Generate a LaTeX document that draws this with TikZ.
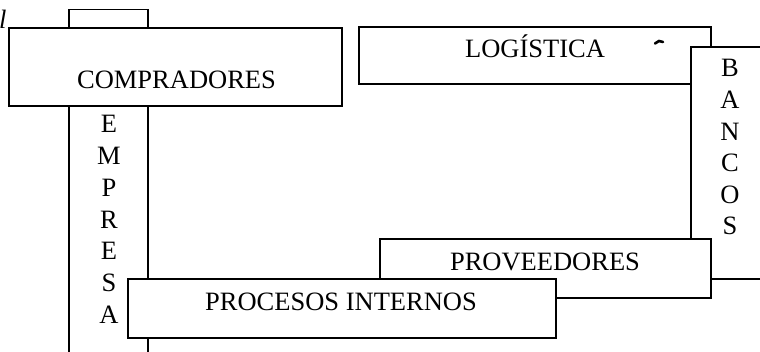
\documentclass[tikz,border=0pt]{standalone}
\usepackage{fontspec}
\setmainfont{Liberation Serif}
\begin{document}
\begin{tikzpicture}[x=1pt,y=-1pt,
  box/.style={draw, fill=white, line width=1.6pt, inner sep=0pt},
  lbl/.style={anchor=base, inner sep=0pt, font=\fontsize{26.5}{30}\selectfont}]
\useasboundingbox (0,0) rectangle (760,352);
\clip (0,0) rectangle (760,352);
\fill[white] (0,0) rectangle (760,352);
% boxes
\node[box, minimum width=79pt, minimum height=360pt] (empresa) at (108.5,189.5) {};
\node[box, minimum width=333pt, minimum height=78pt] (compradores) at (175.5,67) {};
\node[box, minimum width=352pt, minimum height=57pt] (logistica) at (535,55.5) {};
\node[box, minimum width=84pt, minimum height=232pt] (bancos) at (733,163) {};
\node[box, minimum width=331pt, minimum height=59pt] (proveedores) at (545.5,268.5) {};
\node[box, minimum width=428pt, minimum height=59pt] (procesos) at (342,308.5) {};
% labels
\node[lbl] (tcomp) at (176.5,89) {COMPRADORES};
\node[lbl] (tlog) at (535,58) {LOGÍSTICA};
\node[lbl] (tprov) at (545,271) {PROVEEDORES};
\node[lbl] (tproc) at (341,311) {PROCESOS INTERNOS};
\foreach \l [count=\i] in {E,M,P,R,E,S,A}
  \node[lbl] (emp\i) at (109,{133+31.7*(\i-1)}) {\l};
\foreach \l [count=\i] in {B,A,N,C,O,S}
  \node[lbl] (ban\i) at (730,{77+31.6*(\i-1)}) {\l};
\node[lbl, anchor=base west, font=\itshape\fontsize{26.5}{30}\selectfont] (corner) at (-1,29) {l};
\draw[line width=2.6pt, line cap=round] (655,43.5) -- (659,41) -- (663,42);
\end{tikzpicture}
\end{document}
